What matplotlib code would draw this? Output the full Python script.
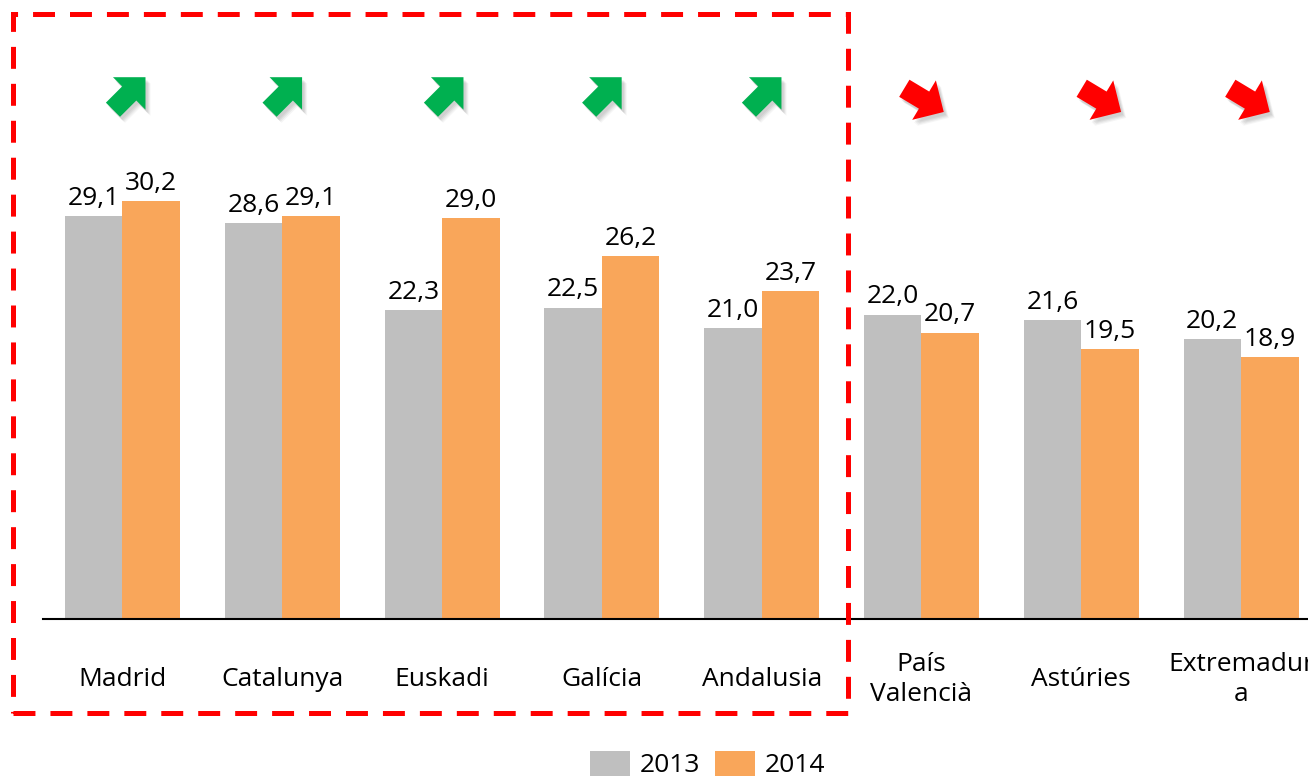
import numpy as np
import matplotlib
matplotlib.use("Agg")
import matplotlib.pyplot as plt
from matplotlib import transforms as mtransforms
from matplotlib.patches import Polygon, Rectangle

plt.rcParams['font.family'] = ['Open Sans', 'DejaVu Sans']
plt.rcParams['lines.scale_dashes'] = False

# ---- data ----
categories = ["Madrid", "Catalunya", "Euskadi", "Galícia", "Andalusia",
              "País\nValencià", "Astúries", "Extremadur\na"]
values_2013 = [29.1, 28.6, 22.3, 22.5, 21.0, 22.0, 21.6, 20.2]
values_2014 = [30.2, 29.1, 29.0, 26.2, 23.7, 20.7, 19.5, 18.9]
series_labels = ["2013", "2014"]

# ---- layout / style ----
arrow_x_offsets = [0.02, 0.0, 0.01, 0.0, 0.0, 0.0, 0.11, 0.04]
color_2013 = "#BFBFBF"
color_2014 = "#F9A65A"
bar_w = 0.36
FS = 19

W, H = 1308, 777
fig = plt.figure(figsize=(W / 100, H / 100), dpi=100)
ax = fig.add_axes([43 / W, 158 / H, 1 - 43 / W, 619 / H])

x = np.arange(len(categories))
ax.bar(x - bar_w / 2, values_2013, bar_w, color=color_2013, label=series_labels[0])
ax.bar(x + bar_w / 2, values_2014, bar_w, color=color_2014, label=series_labels[1])

ax.set_xlim(-0.4975, 7.419)
ax.set_ylim(0, 619 / 13.84)

for s in ["top", "right", "left"]:
    ax.spines[s].set_visible(False)
ax.spines["bottom"].set_linewidth(1.5)
ax.set_yticks([])
ax.set_xticks([])

def fmt(v):
    return f"{v:.1f}".replace(".", ",")

for xi, v in zip(x - bar_w / 2, values_2013):
    ax.annotate(fmt(v), (xi, v), xytext=(0, 8), textcoords="offset points",
                ha="center", va="baseline", fontsize=FS, color="black")
for xi, v in zip(x + bar_w / 2, values_2014):
    ax.annotate(fmt(v), (xi, v), xytext=(0, 8), textcoords="offset points",
                ha="center", va="baseline", fontsize=FS, color="black")

# category labels
for xi, lab in zip(x, categories):
    ax.annotate(lab, (xi, 0), xycoords=("data", "axes fraction"),
                xytext=(0, -43.5), textcoords="offset points",
                ha="center", va="center", fontsize=FS, linespacing=1.3,
                annotation_clip=False)

# trend arrows
def arrow_shape():
    w, h, L = 10, 23, 23
    pts = np.array([[-L, -w], [0, -w], [0, -h], [h, 0], [0, h], [0, w], [-L, w]], float)
    return pts

def draw_arrow(xd, yd, angle, color):
    pts = arrow_shape()
    t = np.deg2rad(angle)
    R = np.array([[np.cos(t), -np.sin(t)], [np.sin(t), np.cos(t)]])
    p = pts @ R.T
    p -= (p.max(axis=0) + p.min(axis=0)) / 2
    base = mtransforms.ScaledTranslation(xd, yd, ax.transData)
    for dx, dy, al in [(2, -3, 0.12), (3, -4, 0.12), (4, -5, 0.10), (5, -6, 0.08)]:
        shadow_tr = mtransforms.Affine2D().translate(dx, dy) + base
        ax.add_patch(Polygon(p, closed=True, transform=shadow_tr, facecolor="#808080",
                             edgecolor="none", alpha=al, zorder=3, clip_on=False))
    tr = mtransforms.Affine2D() + base
    ax.add_patch(Polygon(p, closed=True, transform=tr, facecolor=color,
                         edgecolor="none", zorder=4, clip_on=False))

arrow_y = (619 - 97) / 13.84
for xi, a, b, off in zip(x, values_2013, values_2014, arrow_x_offsets):
    if b > a:
        draw_arrow(xi + off, arrow_y, 45, "#00B050")
    else:
        draw_arrow(xi + off, arrow_y - 0.2, -31, "#FF0000")

# dashed highlight box
rect = Rectangle((13 / W, (H - 713) / H), 835 / W, 699 / H, transform=fig.transFigure,
                 fill=False, edgecolor="#FF0000", linewidth=3.6,
                 linestyle=(0, (15.8, 10.8)), zorder=10)
fig.patches.append(rect)

fig.legend(loc="center", bbox_to_anchor=(0.541, 0.016), ncol=2, frameon=False,
           fontsize=FS, handlelength=1.52, handleheight=1.1, handletextpad=0.38,
           columnspacing=0.53)

fig.savefig("out.png", dpi=100)
